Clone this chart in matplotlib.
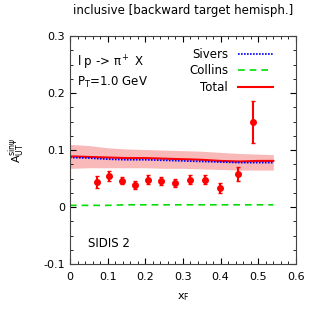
import matplotlib.pyplot as plt
import numpy as np

# data points (SIDIS 2)
xf = [0.071, 0.103, 0.138, 0.172, 0.207, 0.241, 0.279, 0.318, 0.358, 0.398, 0.446, 0.485]
asym = [0.044, 0.054, 0.046, 0.039, 0.048, 0.045, 0.042, 0.048, 0.048, 0.034, 0.058, 0.149]
err = [0.010, 0.009, 0.006, 0.007, 0.008, 0.007, 0.007, 0.008, 0.008, 0.009, 0.012, 0.037]

# theory curves
xc = [0.0, 0.05, 0.1, 0.15, 0.2, 0.25, 0.3, 0.35, 0.4, 0.45, 0.5, 0.54]
total = [0.089, 0.088, 0.087, 0.086, 0.086, 0.085, 0.084, 0.083, 0.081, 0.080, 0.081, 0.081]
band_lo = [0.068, 0.069, 0.069, 0.069, 0.069, 0.068, 0.068, 0.067, 0.066, 0.065, 0.065, 0.065]
band_hi = [0.110, 0.108, 0.104, 0.102, 0.101, 0.100, 0.099, 0.098, 0.096, 0.094, 0.093, 0.092]
sivers = [0.087, 0.086, 0.084, 0.083, 0.083, 0.082, 0.081, 0.080, 0.079, 0.078, 0.078, 0.078]
collins = [0.003, 0.003, 0.003, 0.004, 0.004, 0.004, 0.004, 0.004, 0.004, 0.004, 0.004, 0.004]

fig = plt.figure(figsize=(3.27, 3.17), dpi=100)
ax = fig.add_axes([0.214, 0.167, 0.691, 0.719])

ax.fill_between(xc, band_lo, band_hi, color='#f9b9b9', lw=0)
ax.plot(xc, total, color='red', lw=1.5, label='Total')
ax.plot(xc, sivers, color='blue', lw=1.2, ls=(0, (1, 0.8)), label='Sivers')
ax.plot(xc, collins, color='#00dd00', lw=1.2, ls=(0, (4, 3)), label='Collins')
ax.errorbar(xf, asym, yerr=err, fmt='o', color='red', ms=4, capsize=1.5, elinewidth=1.5)

ax.set_xlim(0, 0.6)
ax.set_ylim(-0.1, 0.3)
ax.set_xticks(np.arange(0, 0.61, 0.1))
ax.set_xticklabels(['0', '0.1', '0.2', '0.3', '0.4', '0.5', '0.6'])
ax.set_yticks([-0.1, 0, 0.1, 0.2, 0.3])
ax.set_yticklabels(['-0.1', '0', '0.1', '0.2', '0.3'])
ax.set_xticks(np.arange(0, 0.6, 0.02), minor=True)
ax.set_yticks(np.arange(-0.1, 0.3, 0.025), minor=True)
ax.tick_params(which='both', direction='in', top=True, right=True, labelsize=8)
ax.tick_params(which='major', length=4)
ax.tick_params(which='minor', length=2)
ax.tick_params(axis='x', pad=6)
for s in ax.spines.values():
    s.set_color('#444444')

ax.set_xlabel('x$_\\mathregular{F}$', fontsize=8, labelpad=6)
ax.set_ylabel('A$_\\mathregular{UT}^\\mathregular{sin\\psi}$', fontsize=8, labelpad=12)
ax.set_title('inclusive [backward target hemisph.]', fontsize=8.5, pad=16)

ax.text(0.03, 0.865, 'l p -> $\\mathregular{\\pi^+}$ X', transform=ax.transAxes, fontsize=8.5)
ax.text(0.03, 0.78, 'P$_\\mathregular{T}$=1.0 GeV', transform=ax.transAxes, fontsize=8.5)
ax.text(0.08, 0.075, 'SIDIS 2', transform=ax.transAxes, fontsize=8.5)

h, l = ax.get_legend_handles_labels()
order = [1, 2, 0]
ax.legend([h[i] for i in order], [l[i] for i in order], loc='upper right',
          bbox_to_anchor=(0.935, 0.985), fontsize=8.5, frameon=False, markerfirst=False,
          handlelength=3.0, labelspacing=0.3, borderaxespad=0.3)

fig.savefig('out.png', dpi=100)
